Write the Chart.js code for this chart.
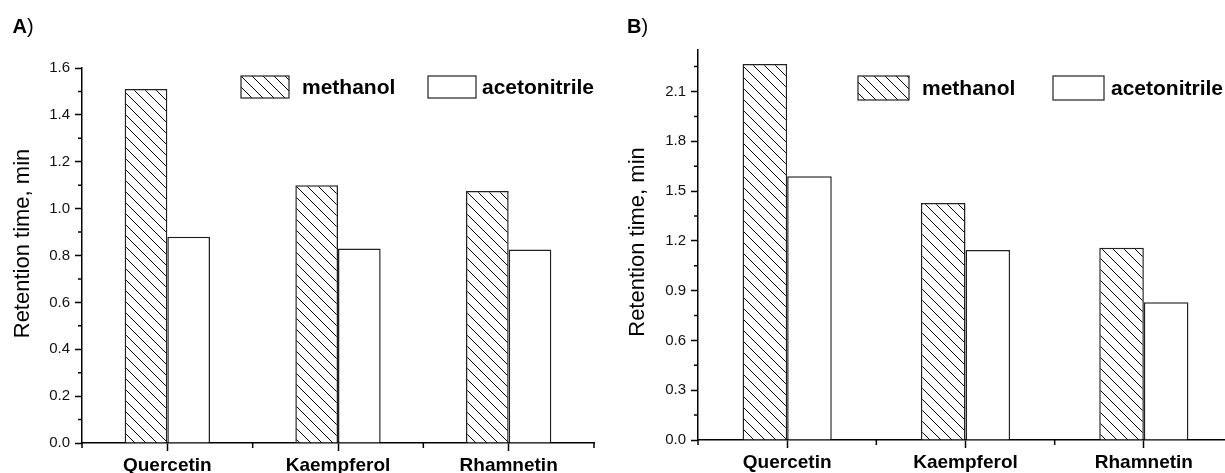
<!DOCTYPE html>
<html>
<head>
<meta charset="utf-8">
<script src="https://cdn.jsdelivr.net/npm/chart.js@4.4.1/dist/chart.umd.min.js"></script>
<style>
  html, body { margin: 0; padding: 0; background: #fff; overflow: hidden; width: 1225px; height: 473px; position: relative; }
  canvas { position: absolute; top: 0; }
  #chartA { left: 0; }
  #chartB { left: 600px; }
</style>
</head>
<body>
<canvas id="chartA" width="600" height="473"></canvas>
<canvas id="chartB" width="640" height="473"></canvas>
<script>
// data
const compounds = ['Quercetin', 'Kaempferol', 'Rhamnetin'];
const seriesNames = ['methanol', 'acetonitrile'];

// panel A
const methanolA = [1.51, 1.10, 1.075];
const acetonitrileA = [0.88, 0.83, 0.826];
const yMaxA = 1.6;
const yStepA = 0.2;

// panel B
const methanolB = [2.265, 1.428, 1.158];
const acetonitrileB = [1.59, 1.145, 0.83];
const yMaxB = 2.35;
const yStepB = 0.3;

const FONT = 'Arial, "Liberation Sans", sans-serif';
const yTitle = 'Retention time, min';

function hatch(size) {
  const c = document.createElement('canvas');
  c.width = c.height = size;
  const g = c.getContext('2d');
  g.fillStyle = '#fff';
  g.fillRect(0, 0, size, size);
  g.strokeStyle = '#000';
  g.lineWidth = 1;
  g.beginPath();
  g.moveTo(-1, -1); g.lineTo(size + 1, size + 1);
  g.moveTo(size - 1, -1); g.lineTo(size + 1, 1);
  g.moveTo(-1, size - 1); g.lineTo(1, size + 1);
  g.stroke();
  return g.createPattern(c, 'repeat');
}

// minor ticks, y title, panel letter and legend
const panelDecor = {
  id: 'panelDecor',
  afterDraw(chart, args, o) {
    const { ctx, chartArea: ca, scales: { x, y } } = chart;
    ctx.save();
    ctx.strokeStyle = '#000';
    ctx.lineWidth = 1.5;
    ctx.beginPath();
    for (let v = o.step / 2; v <= y.max + 1e-9; v += o.step) {
      const py = y.getPixelForValue(v);
      ctx.moveTo(ca.left - 4, py);
      ctx.lineTo(ca.left, py);
    }
    const n = x.ticks.length;
    for (let i = 0; i <= n; i++) {
      const px = i === 0 ? ca.left : i === n ? ca.right
        : (x.getPixelForTick(i - 1) + x.getPixelForTick(i)) / 2;
      ctx.moveTo(px, ca.bottom);
      ctx.lineTo(px, ca.bottom + 5);
    }
    ctx.stroke();

    // y axis title
    ctx.save();
    ctx.translate(ca.left + o.titleDX, (ca.top + ca.bottom) / 2 + o.titleDY);
    ctx.rotate(-Math.PI / 2);
    ctx.fillStyle = '#000';
    ctx.font = '22px ' + FONT;
    ctx.textAlign = 'center';
    ctx.textBaseline = 'middle';
    ctx.fillText(yTitle, 0, 0);
    ctx.restore();

    // panel letter
    ctx.fillStyle = '#000';
    ctx.textBaseline = 'alphabetic';
    ctx.textAlign = 'left';
    ctx.font = 'bold 20px ' + FONT;
    ctx.fillText(o.letter, o.letterX, 33);
    const w = ctx.measureText(o.letter).width;
    ctx.font = '20px ' + FONT;
    ctx.fillText(')', o.letterX + w, 33);

    // legend
    const lg = o.legend;
    chart.data.datasets.forEach((ds, i) => {
      const bx = lg.x[i];
      ctx.fillStyle = ds.backgroundColor;
      ctx.fillRect(bx, lg.y, lg.w, lg.h);
      ctx.strokeStyle = '#222';
      ctx.lineWidth = 1.2;
      ctx.strokeRect(bx, lg.y, lg.w, lg.h);
      ctx.fillStyle = '#000';
      ctx.font = 'bold 21px ' + FONT;
      ctx.textBaseline = 'middle';
      ctx.fillText(ds.label, lg.tx[i], lg.y + lg.h / 2 + 1);
    });
    ctx.restore();
  }
};

function makePanel(id, methanol, acetonitrile, yMax, yStep, deco, yWidth, xHeight, padding) {
  const pattern = hatch(11);
  return new Chart(document.getElementById(id), {
    type: 'bar',
    data: {
      labels: compounds,
      datasets: [
        { label: seriesNames[0], data: methanol, backgroundColor: pattern },
        { label: seriesNames[1], data: acetonitrile, backgroundColor: '#fff' }
      ]
    },
    options: {
      responsive: false,
      animation: false,
      layout: { padding: padding },
      datasets: {
        bar: {
          categoryPercentage: 0.5,
          barPercentage: 1.0,
          borderColor: '#222',
          borderWidth: 1.5
        }
      },
      plugins: {
        legend: { display: false },
        tooltip: { enabled: false },
        panelDecor: deco
      },
      scales: {
        x: {
          offset: true,
          grid: { drawOnChartArea: false, offset: false, tickLength: 8, tickWidth: 1.5, tickColor: '#000' },
          border: { display: true, color: '#000', width: 1.5 },
          ticks: { color: '#000', padding: 3, font: { family: FONT, size: 19, weight: 'bold' } },
          afterFit(scale) { scale.height = xHeight; }
        },
        y: {
          min: 0,
          max: yMax,
          grid: { drawOnChartArea: false, tickLength: 7, tickWidth: 1.5, tickColor: '#000' },
          border: { display: true, color: '#000', width: 1.5 },
          ticks: {
            stepSize: yStep,
            color: '#111',
            padding: 5,
            font: { family: FONT, size: 15 },
            callback: v => v.toFixed(1)
          },
          afterBuildTicks(scale) {
            scale.ticks = scale.ticks.filter(t => Math.abs(t.value / yStep - Math.round(t.value / yStep)) < 1e-6);
          },
          afterFit(scale) { scale.width = yWidth; }
        }
      }
    },
    plugins: [panelDecor]
  });
}

makePanel('chartA', methanolA, acetonitrileA, yMaxA, yStepA,
  { step: yStepA, titleDX: -59, titleDY: -12, letter: 'A', letterX: 12.5,
    legend: { x: [241, 428], tx: [302, 482], y: 76, w: 48, h: 22 } },
  82, 30, { top: 68, right: 6, left: 0, bottom: 0 });

makePanel('chartB', methanolB, acetonitrileB, yMaxB, yStepB,
  { step: yStepB, titleDX: -60, titleDY: -3, letter: 'B', letterX: 27,
    legend: { x: [258, 453], tx: [322, 511], y: 76, w: 51, h: 24 } },
  98, 33, { top: 50, right: 7, left: 0, bottom: 0 });
</script>
</body>
</html>
